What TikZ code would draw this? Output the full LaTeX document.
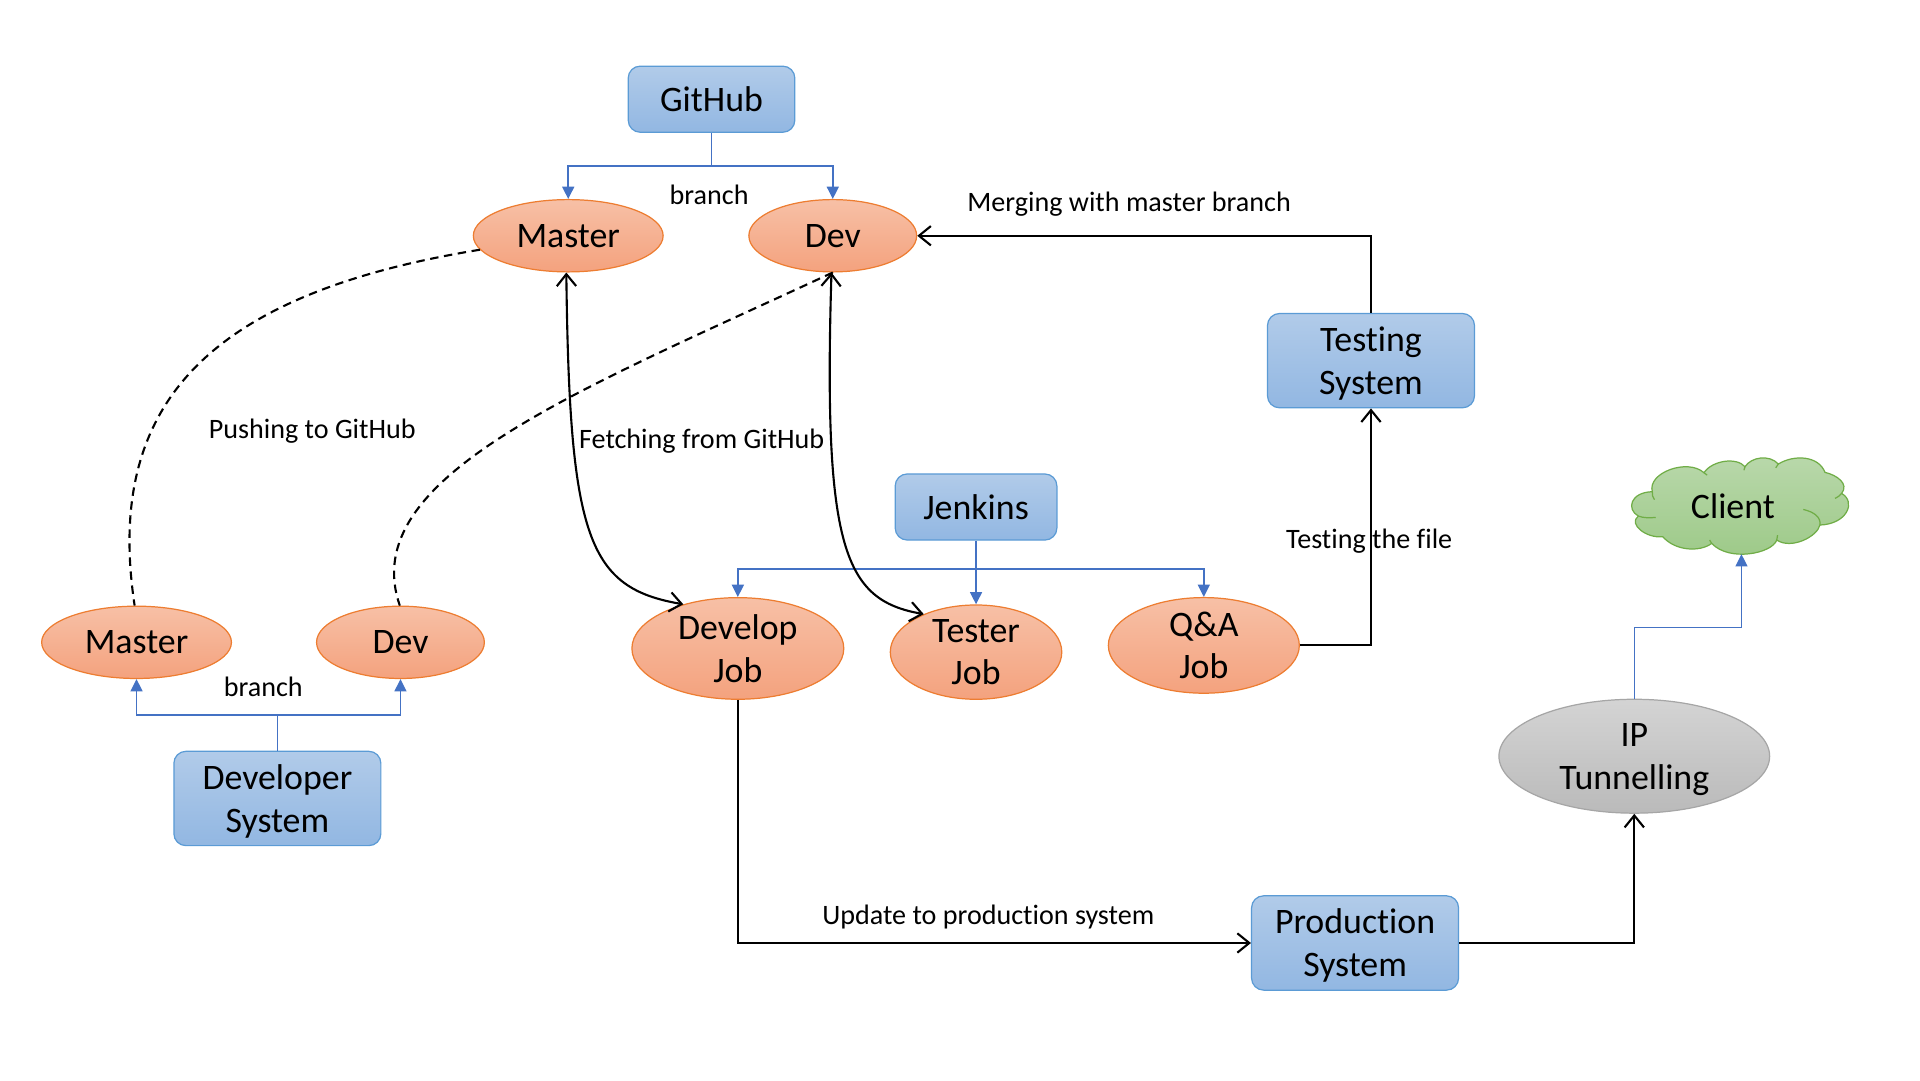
\documentclass[tikz,border=0pt]{standalone}
\usepackage{fontspec}
\setmainfont[Ligatures=CommonOff]{Carlito}
\usetikzlibrary{arrows.meta,shapes.geometric}
\definecolor{boxtop}{HTML}{B1CBE9}
\definecolor{boxbot}{HTML}{92B7E2}
\definecolor{boxline}{HTML}{5B9BD5}
\definecolor{ovaltop}{HTML}{F7C0A6}
\definecolor{ovalbot}{HTML}{F4A27E}
\definecolor{ovalline}{HTML}{ED7D31}
\definecolor{linkblue}{HTML}{4472C4}
\definecolor{cloudtop}{HTML}{B9D8AB}
\definecolor{cloudbot}{HTML}{9CC987}
\definecolor{cloudline}{HTML}{70AD47}
\tikzset{
  dims/.style 2 args={minimum width=#1mm,minimum height=#2mm},
  name text/.style={font=\fontsize{10.2}{12.2}\selectfont,align=center,inner sep=0pt,text=black},
  twoline/.style={text depth=0pt},
  sysbox/.style={name text,draw=boxline,line width=.35pt,rounded corners=1.2mm,top color=boxtop,bottom color=boxbot},
  branchoval/.style={name text,ellipse,draw=ovalline,line width=.35pt,top color=ovaltop,bottom color=ovalbot},
  tunneloval/.style={name text,ellipse,draw=black!35,line width=.35pt,top color=black!17,bottom color=black!27},
  clientcloud/.style={draw=cloudline,line width=.35pt,top color=cloudtop,bottom color=cloudbot},
  note/.style={font=\fontsize{8}{9.6}\selectfont,inner sep=0pt},
  feed/.style={draw=linkblue,line width=.45pt,-{Triangle[width=3.4pt,length=3.5pt]}},
  flow/.style={draw=black,line width=.6pt,-{Straight Barb[length=3.4pt,width=5.5pt]}},
  sync/.style={draw=black,line width=.6pt,{Straight Barb[length=3.4pt,width=5.5pt]}-{Straight Barb[length=3.4pt,width=5.5pt]}},
  push/.style={draw=black,line width=.6pt,dash pattern=on 2.4pt off 1.6pt}
}
\begin{document}
\begin{tikzpicture}[x=0.12247mm,y=-0.12247mm]
  \useasboundingbox (0,0) rectangle (1567.8,881.9);
  % client cloud
  \draw[clientcloud] (1349.2,401.5)
    .. controls (1345,386) and (1378,374) .. (1391.4,386)
    .. controls (1398,376) and (1418,373) .. (1424.9,381.1)
    .. controls (1430,373) and (1445,371) .. (1452.1,378.9)
    .. controls (1465,371) and (1485,372) .. (1490.2,385.7)
    .. controls (1500,388) and (1510,395) .. (1503.8,402.9)
    .. controls (1516,410) and (1508,428) .. (1486.1,428.7)
    .. controls (1484,438) and (1463,449) .. (1450.8,441)
    .. controls (1447,452) and (1412,459) .. (1397.7,443.7)
    .. controls (1388,451) and (1368,450) .. (1357.7,438.2)
    .. controls (1345,440) and (1329,428) .. (1337.8,421.4)
    .. controls (1328,416) and (1331,402) .. (1349.2,401.5) -- cycle;
  \draw[cloudline,line width=.35pt]
    (1349.2,401.5) .. controls (1349,404) and (1349.5,406) .. (1351,408)
    (1337.8,421.4) .. controls (1342,423) and (1347,423) .. (1352,422.5)
    (1503.8,402.9) .. controls (1502,405) and (1500.5,406) .. (1498.4,407)
    (1486.1,428.7) .. controls (1487,422) and (1481,418) .. (1472.5,416)
    (1391.4,386) -- (1394,388)
    (1424.9,381.1) -- (1424,384)
    (1452.1,378.9) -- (1450,382)
    (1450.8,441) -- (1451.5,437)
    (1397.7,443.7) -- (1396,441);
  \draw
    (581,81) node[sysbox,dims={16.66}{6.61}] (github){GitHub}
    (464,192.5) node[branchoval,dims={18.98}{7.23}] (mastertop){Master}
    (680,192.5) node[branchoval,dims={16.78}{7.23}] (devtop){Dev}
    (1119.5,294.5) node[sysbox,twoline,dims={20.7}{9.43}] (testing){Testing\\System}
    (797,414) node[sysbox,dims={16.17}{6.61}] (jenkins){Jenkins}
    (111.5,524.5) node[branchoval,dims={18.98}{7.23}] (masterlow){Master}
    (327,524.5) node[branchoval,dims={16.78}{7.23}] (devlow){Dev}
    (226.5,652) node[sysbox,twoline,dims={20.7}{9.43}] (developer){Developer\\System}
    (602.5,529.5) node[branchoval,dims={21.19}{10.16}] (developjob){Develop\\Job}
    (797,532.5) node[branchoval,dims={17.15}{9.43}] (testerjob){Tester\\Job}
    (983,527) node[branchoval,dims={19.1}{9.55}] (qajob){Q\&A\\Job}
    (1106.5,770) node[sysbox,twoline,dims={20.7}{9.43}] (production){Production\\System}
    (1334.5,617.5) node[tunneloval,twoline,dims={27.07}{11.39}] (tunnel){IP\\Tunnelling}
    (1415,413) node[name text] (client){Client};
  \coordinate (clientfoot) at (1422,452.5);
  \draw
    (579,159) node[note] (branchtop){branch}
    (922,167) node[note] (merging){Merging with master branch}
    (255,352) node[note] (pushing){Pushing to GitHub}
    (573,360) node[note] (fetching){Fetching from GitHub}
    (1118,441.5) node[note] (testfile){Testing the file}
    (807,748.5) node[note] (update){Update to production system}
    (215,561) node[note] (branchlow){branch};
  \begin{scope}[feed]
    \draw (github.south) -- ++(0,27) coordinate (githubfork) -| (mastertop.north);
    \draw (githubfork) -| (devtop.north);
    \draw (developer.north) -- ++(0,-29) coordinate (developerfork) -| (masterlow.south);
    \draw (developerfork) -| (devlow.south);
    \draw (jenkins.south) -- ++(0,23) coordinate (jenkinsfork) -| (developjob.north);
    \draw (jenkinsfork) -- (testerjob.north);
    \draw (jenkinsfork) -| (qajob.north);
    \draw (tunnel.north) -- ++(0,-58) -| (clientfoot);
  \end{scope}
  \begin{scope}[flow]
    \draw (testing.north) |- (devtop.east);
    \draw (qajob.east) -| (testing.south);
    \draw (developjob.south) |- (production.west);
    \draw (production.east) -| (tunnel.south);
  \end{scope}
  \begin{scope}[sync]
    \draw (mastertop.267) .. controls (465,440) and (480,480) .. (developjob.141);
    \draw (devtop.268) .. controls (672,450) and (690,490) .. (testerjob.144);
  \end{scope}
  \begin{scope}[push]
    \draw (mastertop.189) .. controls (170,240) and (85,330) .. (masterlow.93);
    \draw (devtop.270) .. controls (470,320) and (290,390) .. (devlow.91);
  \end{scope}
\end{tikzpicture}
\end{document}
